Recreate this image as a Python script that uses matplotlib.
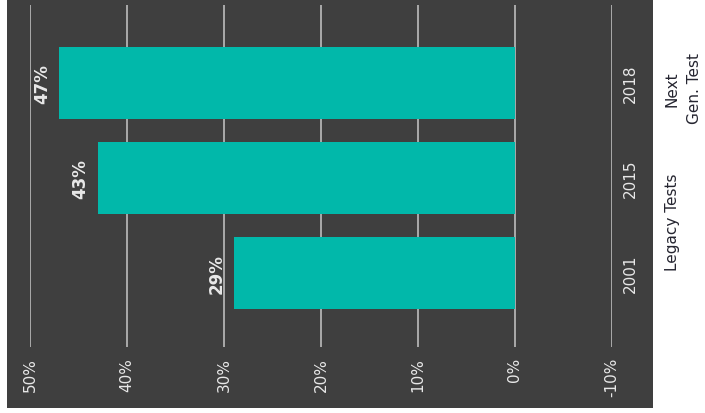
import matplotlib.pyplot as plt
from matplotlib.patches import Rectangle

# share of tests per generation
years = ['2001', '2015', '2018']
shares = [29, 43, 47]
pct_ticks = [50, 40, 30, 20, 10, 0, -10]
pct_labels = ['50%', '40%', '30%', '20%', '10%', '0%', '-10%']

bg = '#3f3f3f'
teal = '#01b8aa'
txt = '#e8e8e8'

fig = plt.figure(figsize=(7.05, 4.14), dpi=100)
fig.patch.set_facecolor('white')
fig.add_artist(Rectangle((7 / 705, 1 - 409 / 414), 646 / 705, 409 / 414,
                         transform=fig.transFigure, facecolor=bg,
                         edgecolor='none', zorder=-1))

ax = fig.add_axes([30 / 705, 1 - 348 / 414, 582 / 705, 342 / 414])
ax.set_facecolor('none')
ax.set_zorder(1)

pos = list(range(len(years)))
ax.barh(pos, shares, height=0.76, color=teal, zorder=2)

ax.set_xlim(50, -10)
ax.set_ylim(-0.78, 2.82)
ax.set_xticks(pct_ticks)
ax.set_xticklabels(pct_labels, rotation=90, color=txt, fontsize=11)
ax.set_yticks(pos)
ax.set_yticklabels(years, rotation=90, color=txt, fontsize=11, va='center')
ax.yaxis.tick_right()
ax.tick_params(axis='x', length=0, pad=7)
ax.tick_params(axis='y', length=0, pad=8)
ax.grid(axis='x', color='#c8c8c8', linewidth=1.1, zorder=1)
for s in ax.spines.values():
    s.set_visible(False)

for p, v in zip(pos, shares):
    ax.annotate(f'{v}%', (v, p), xytext=(-6, 0), textcoords='offset points',
                rotation=90, ha='right', va='center', color=txt,
                fontsize=12, fontweight='bold')

fig.text(665 / 705, 1 - 222 / 414, 'Legacy Tests', rotation=90,
         ha='left', va='center', color='#252530', fontsize=11)
fig.text(665 / 705, 1 - 89 / 414, 'Next\nGen. Test', rotation=90,
         ha='left', va='center', color='#252530', fontsize=11,
         multialignment='center', linespacing=1.55)

fig.savefig('out.png', dpi=100)
